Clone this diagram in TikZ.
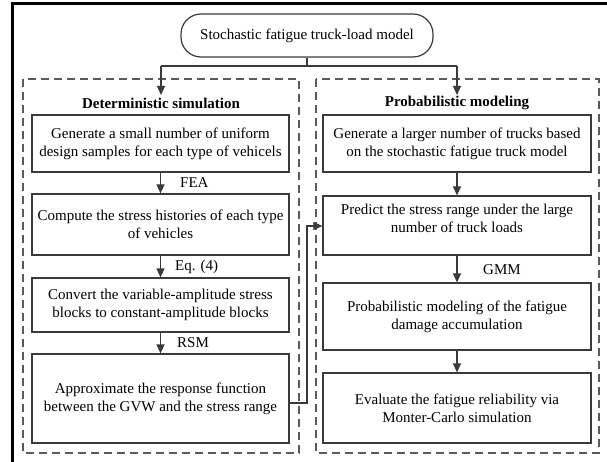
\documentclass[tikz,border=0pt]{standalone}
\usepackage{fontspec}
\setmainfont{Liberation Serif}
\usetikzlibrary{arrows.meta}
\definecolor{edge}{HTML}{3A3A3A}
\definecolor{dash}{HTML}{5A5A5A}
\begin{document}
\begin{tikzpicture}[x=1pt,y=-1pt,
  font=\fontsize{15}{18}\selectfont,
  stepbox/.style={draw=edge,line width=1.2pt,align=center,inner sep=2pt},
  lbox/.style={stepbox,minimum width=257pt},
  rbox/.style={stepbox,minimum width=268pt},
  group/.style={draw=dash,line width=1.4pt,dash pattern=on 8pt off 5pt},
  flow/.style={draw=edge,line width=1.2pt,-{Triangle[length=9pt,width=8pt]}},
  tag/.style={anchor=west,inner sep=0pt},
  head/.style={font=\fontsize{15}{18}\selectfont\bfseries,inner sep=0pt}]
\useasboundingbox (0,0) rectangle (607,462);

% frame
\draw[line width=3pt] (607,3.5) -- (12.5,3.5) -- (12.5,462);

% start node
\node[draw=edge,line width=1.2pt,rounded corners=20pt,minimum width=252pt,minimum height=43pt]
  (start) at (307,35.5) {Stochastic fatigue truck-load model};

% dashed groups
\draw[group] (23,79) rectangle (299,453);
\draw[group] (316,79) rectangle (599,453);
\node[head] (dtitle) at (161,103) {Deterministic simulation};
\node[head] (ptitle) at (457,103) {Probabilistic modeling};

% split from the start node
\coordinate (split) at (307,66);
\coordinate (lsplit) at (161,66);
\coordinate (rsplit) at (457,66);
\coordinate (ltip) at (161,95);
\coordinate (rtip) at (457,95);
\draw[edge,line width=1.2pt] (start.south) -- (split);
\draw[edge,line width=1.2pt] (lsplit) -- (rsplit);
\draw[flow] (lsplit) -- (ltip);
\draw[flow] (rsplit) -- (rtip);

% deterministic branch
\node[lbox,minimum height=57pt] (l1) at (160.5,143.5)
  {Generate a small number of uniform\\design samples for each type of vehicels};
\node[lbox,minimum height=61pt] (l2) at (160.5,224.5)
  {Compute the stress histories of each type\\of vehicles};
\node[lbox,minimum height=54pt] (l3) at (160.5,305)
  {Convert the variable-amplitude stress\\blocks to constant-amplitude blocks};
\node[lbox,minimum height=89pt] (l4) at (160.5,398.5)
  {Approximate the response function\\between the GVW and the stress range};

\draw[flow] (l1) -- (l2);
\draw[flow] (l2) -- (l3);
\draw[flow] (l3) -- (l4);
\node[tag] (fea) at (180,183) {FEA};
\node[tag] (eq) at (175,267) {Eq. (4)};
\node[tag] (rsm) at (177,343) {RSM};

% probabilistic branch
\node[rbox,minimum height=57pt] (r1) at (457,143.5)
  {Generate a larger number of trucks based\\on the stochastic fatigue truck model};
\node[rbox,minimum height=59pt] (r2) at (457,225.5)
  {Predict the stress range under the large\\number of truck loads\\[-4pt]\mbox{}};
\node[rbox,minimum height=67pt] (r3) at (457,316.5)
  {Probabilistic modeling of the fatigue\\damage accumulation};
\node[rbox,minimum height=70pt] (r4) at (457,408)
  {Evaluate the fatigue reliability via\\Monter-Carlo simulation};

\draw[flow] (r1) -- (r2);
\draw[flow] (r2) -- (r3);
\draw[flow] (r3) -- (r4);
\node[tag] (gmm) at (483,270) {GMM};

% feedback from the response function to the prediction step
\coordinate (fbout) at (l4.east |- 0,403);
\coordinate (fbin) at (r2.west |- 0,226);
\draw[flow] (fbout) -- (307,403) -- (307,226) -- (fbin);
\end{tikzpicture}
\end{document}
